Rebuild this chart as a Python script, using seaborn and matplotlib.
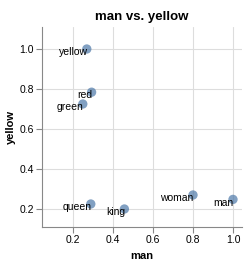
import matplotlib
matplotlib.use("Agg")
import matplotlib.pyplot as plt
import seaborn as sns
import pandas as pd

# ── Data ──────────────────────────────────────────────────────────────────────
words = ["yellow", "red", "green", "queen", "king", "woman", "man"]
man_sim = [0.269, 0.293, 0.249, 0.289, 0.457, 0.800, 1.000]
yellow_sim = [1.000, 0.784, 0.725, 0.225, 0.200, 0.270, 0.248]

df = pd.DataFrame({"word": words, "man": man_sim, "yellow": yellow_sim})

# ── Plot ──────────────────────────────────────────────────────────────────────
sns.set_style("white")
plt.rcParams["font.family"] = ["Liberation Sans", "DejaVu Sans"]
plt.rcParams.update({"text.color": "black", "axes.labelcolor": "black",
                     "xtick.color": "black", "ytick.color": "black"})

fig = plt.figure(figsize=(2.47, 2.64), dpi=100)
ax = fig.add_axes([42 / 247, 37 / 264, 200 / 247, 200 / 264])

sns.scatterplot(data=df, x="man", y="yellow", ax=ax, s=45,
                color="#4c78a8", alpha=0.7, edgecolor="none", zorder=3)

# word labels sit just left of / below each point
for w, x, y in zip(df["word"], df["man"], df["yellow"]):
    ax.annotate(w, (x, y), xytext=(0.5, -2.3), textcoords="offset points",
                ha="right", va="center", fontsize=7.5, color="black", zorder=4)

ax.set_xlim(0.045, 1.045)
ax.set_ylim(0.11, 1.11)
ax.set_xticks([0.2, 0.4, 0.6, 0.8, 1.0])
ax.set_yticks([0.2, 0.4, 0.6, 0.8, 1.0])
ax.grid(True, color="#dddddd", linewidth=0.8)
ax.set_axisbelow(True)

for side in ["top", "right"]:
    ax.spines[side].set_visible(False)
for side in ["left", "bottom"]:
    ax.spines[side].set_color("#888888")
    ax.spines[side].set_linewidth(0.8)

ax.tick_params(axis="both", length=4, width=0.8, color="#888888",
               labelcolor="black", labelsize=7.5, pad=2, direction="out",
               bottom=True, left=True)

ax.set_xlabel("man", fontsize=8, fontweight="bold", labelpad=4)
ax.set_ylabel("yellow", fontsize=8, fontweight="bold", labelpad=2.5)
ax.set_title("man vs. yellow", fontsize=9.5, fontweight="bold", pad=5)

fig.savefig("out.png", dpi=100)
